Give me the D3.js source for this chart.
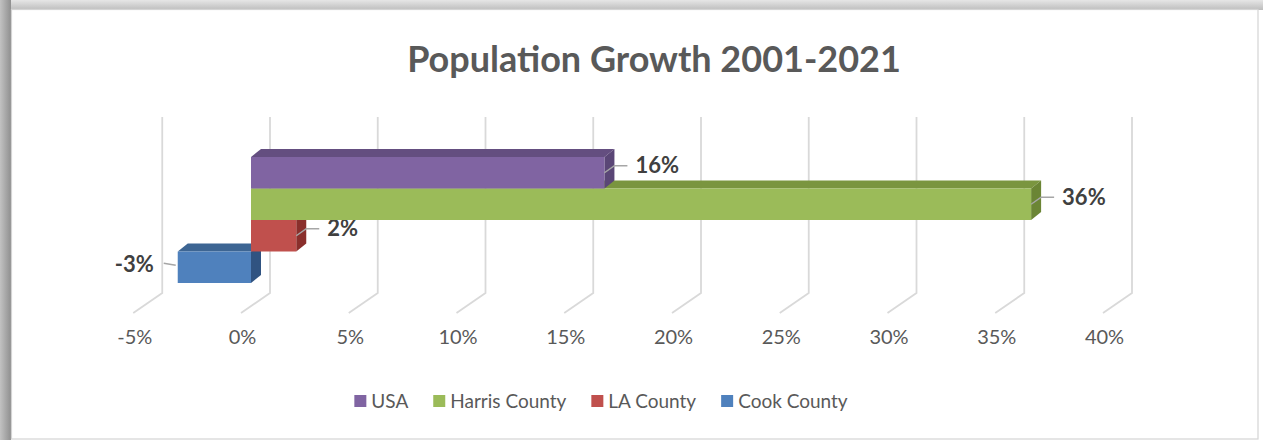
<!DOCTYPE html>
<html>
<head>
<meta charset="utf-8">
<script src="https://cdn.jsdelivr.net/npm/d3@7"></script>
<style>
  html, body { margin: 0; padding: 0; background: #fff; }
  svg { display: block; font-family: Lato, "Open Sans", sans-serif; }
</style>
</head>
<body>
<svg id="chart" width="1263" height="440"></svg>
<script>
// data
const categories = ["USA", "Harris County", "LA County", "Cook County"];
const growth = [16.4, 36.2, 2.1, -3.4];           // percent, 2001-2021
const tickValues = [-5, 0, 5, 10, 15, 20, 25, 30, 35, 40];
const titleText = "Population Growth 2001-2021";

// fill colours: front, top, side
const palette = {
  "USA":           ["#8064a2", "#644e80", "#5a4676"],
  "Harris County": ["#9bbb59", "#7a953f", "#6b8535"],
  "LA County":     ["#c0504d", "#9c3d3a", "#8a2f2c"],
  "Cook County":   ["#4f81bd", "#3d6593", "#305381"]
};

const svg = d3.select("#chart");
const W = 1263, H = 440;

//
// frame with the shadow on top and left
const defs = svg.append("defs");
const gl = defs.append("linearGradient").attr("id", "shadeL").attr("x1", 0).attr("x2", 1).attr("y1", 0).attr("y2", 0);
gl.append("stop").attr("offset", 0).attr("stop-color", "#c2c2c2");
gl.append("stop").attr("offset", 1).attr("stop-color", "#8f8f8f");
const gt = defs.append("linearGradient").attr("id", "shadeT").attr("x1", 0).attr("x2", 0).attr("y1", 0).attr("y2", 1);
gt.append("stop").attr("offset", 0).attr("stop-color", "#e6e6e6");
gt.append("stop").attr("offset", 1).attr("stop-color", "#bdbdbd");

svg.append("rect").attr("width", W).attr("height", H).attr("fill", "#fff");
svg.append("rect").attr("x", 0).attr("y", 0).attr("width", W).attr("height", 10).attr("fill", "url(#shadeT)");
svg.append("rect").attr("x", 0).attr("y", 0).attr("width", 11).attr("height", H).attr("fill", "url(#shadeL)");
svg.append("rect").attr("x", 11.5).attr("y", 9.5).attr("width", 1246.5).attr("height", 429.5)
  .attr("fill", "#fff").attr("stroke", "#d4d4d4").attr("stroke-width", 1.2);

//
// title
svg.append("text")
  .attr("x", 654).attr("y", 72)
  .attr("text-anchor", "middle")
  .attr("fill", "#595959")
  .style("font-size", "36px").style("font-weight", "bold")
  .text(titleText);

//
// scales (front plane of the bars)
const x = d3.scaleLinear().domain([-5, 40]).range([143.25, 1113]);
const y = d3.scaleBand().domain(categories).range([157, 283]).padding(0);

// oblique depth offsets
const wall = { dx: 19, top: 117, bottom: 293 };   // back wall
const floorFront = { dx: -10, y: 313 };           // front edge of the floor
const depth = { dx: 10, dy: -8 };                 // bar thickness

//
// gridlines: back wall + floor
svg.append("g").selectAll("path")
  .data(tickValues)
  .enter()
  .append("path")
  .attr("d", d => `M${x(d) + wall.dx},${wall.top}V${wall.bottom}L${x(d) + floorFront.dx},${floorFront.y}`)
  .attr("fill", "none")
  .attr("stroke", "#d9d9d9")
  .attr("stroke-width", 1.8);

//
// axis labels along the front edge
const axis = svg.append("g")
  .attr("transform", `translate(${floorFront.dx + 1},330)`)
  .call(d3.axisBottom(x).tickValues(tickValues).tickSize(0).tickPadding(0).tickFormat(d => d + "%"));
axis.select(".domain").remove();
axis.selectAll("text")
  .attr("fill", "#595959")
  .style("font-family", "Lato, sans-serif")
  .style("font-size", "20px");

//
// bars, lower ones first so the upper front faces cover their tops
const rows = categories.map((c, i) => ({ name: c, value: growth[i] })).reverse();

const bars = svg.append("g").selectAll("g")
  .data(rows)
  .enter()
  .append("g");

bars.append("path") // top face
  .attr("d", d => {
    const x0 = x(Math.min(0, d.value)), x1 = x(Math.max(0, d.value)), y0 = y(d.name);
    return `M${x0},${y0}L${x1},${y0}L${x1 + depth.dx},${y0 + depth.dy}L${x0 + depth.dx},${y0 + depth.dy}Z`;
  })
  .attr("fill", d => palette[d.name][1]);

bars.append("path") // right side face
  .attr("d", d => {
    const x1 = x(Math.max(0, d.value)), y0 = y(d.name), y1 = y0 + y.bandwidth();
    return `M${x1},${y0}L${x1 + depth.dx},${y0 + depth.dy}L${x1 + depth.dx},${y1 + depth.dy}L${x1},${y1}Z`;
  })
  .attr("fill", d => palette[d.name][2]);

bars.append("rect") // front face
  .attr("x", d => x(Math.min(0, d.value)))
  .attr("y", d => y(d.name))
  .attr("width", d => Math.abs(x(d.value) - x(0)))
  .attr("height", y.bandwidth())
  .attr("fill", d => palette[d.name][0]);

//
// data labels with leader lines
const fmt = v => Math.round(v) + "%";
bars.each(function (d) {
  const g = d3.select(this);
  const ym = y(d.name) + y.bandwidth() / 2;
  if (d.value >= 0) {
    const xe = x(d.value);
    g.append("path")
      .attr("d", `M${xe},${ym}L${xe + depth.dx},${ym - 7}H${xe + 23}`)
      .attr("fill", "none").attr("stroke", "#a6a6a6").attr("stroke-width", 1.5);
    g.append("text")
      .attr("x", xe + 31).attr("y", ym - 7)
      .attr("dy", "0.35em")
      .attr("fill", "#404040")
      .style("font-size", "22px").style("font-weight", "bold")
      .text(fmt(d.value));
  } else {
    const xs = x(d.value);
    g.append("path")
      .attr("d", `M${xs - 2},${ym - 2}L${xs - 14},${ym - 4}`)
      .attr("fill", "none").attr("stroke", "#a6a6a6").attr("stroke-width", 1.5);
    g.append("text")
      .attr("x", xs - 24).attr("y", ym - 3)
      .attr("dy", "0.35em")
      .attr("text-anchor", "end")
      .attr("fill", "#404040")
      .style("font-size", "22px").style("font-weight", "bold")
      .text(fmt(d.value));
  }
});

//
// legend
const legend = svg.append("g");
let lx = 0;
categories.forEach(c => {
  const item = legend.append("g").attr("transform", `translate(${lx},0)`);
  item.append("rect").attr("x", 0).attr("y", -6).attr("width", 12).attr("height", 12)
    .attr("fill", palette[c][0]);
  const t = item.append("text").attr("x", 17).attr("y", 0).attr("dy", "0.35em")
    .attr("fill", "#595959").style("font-size", "19px").text(c);
  lx += 17 + t.node().getComputedTextLength() + 25;
});
const legendW = lx - 25;
legend.attr("transform", `translate(${601 - legendW / 2},401)`);
</script>
</body>
</html>
